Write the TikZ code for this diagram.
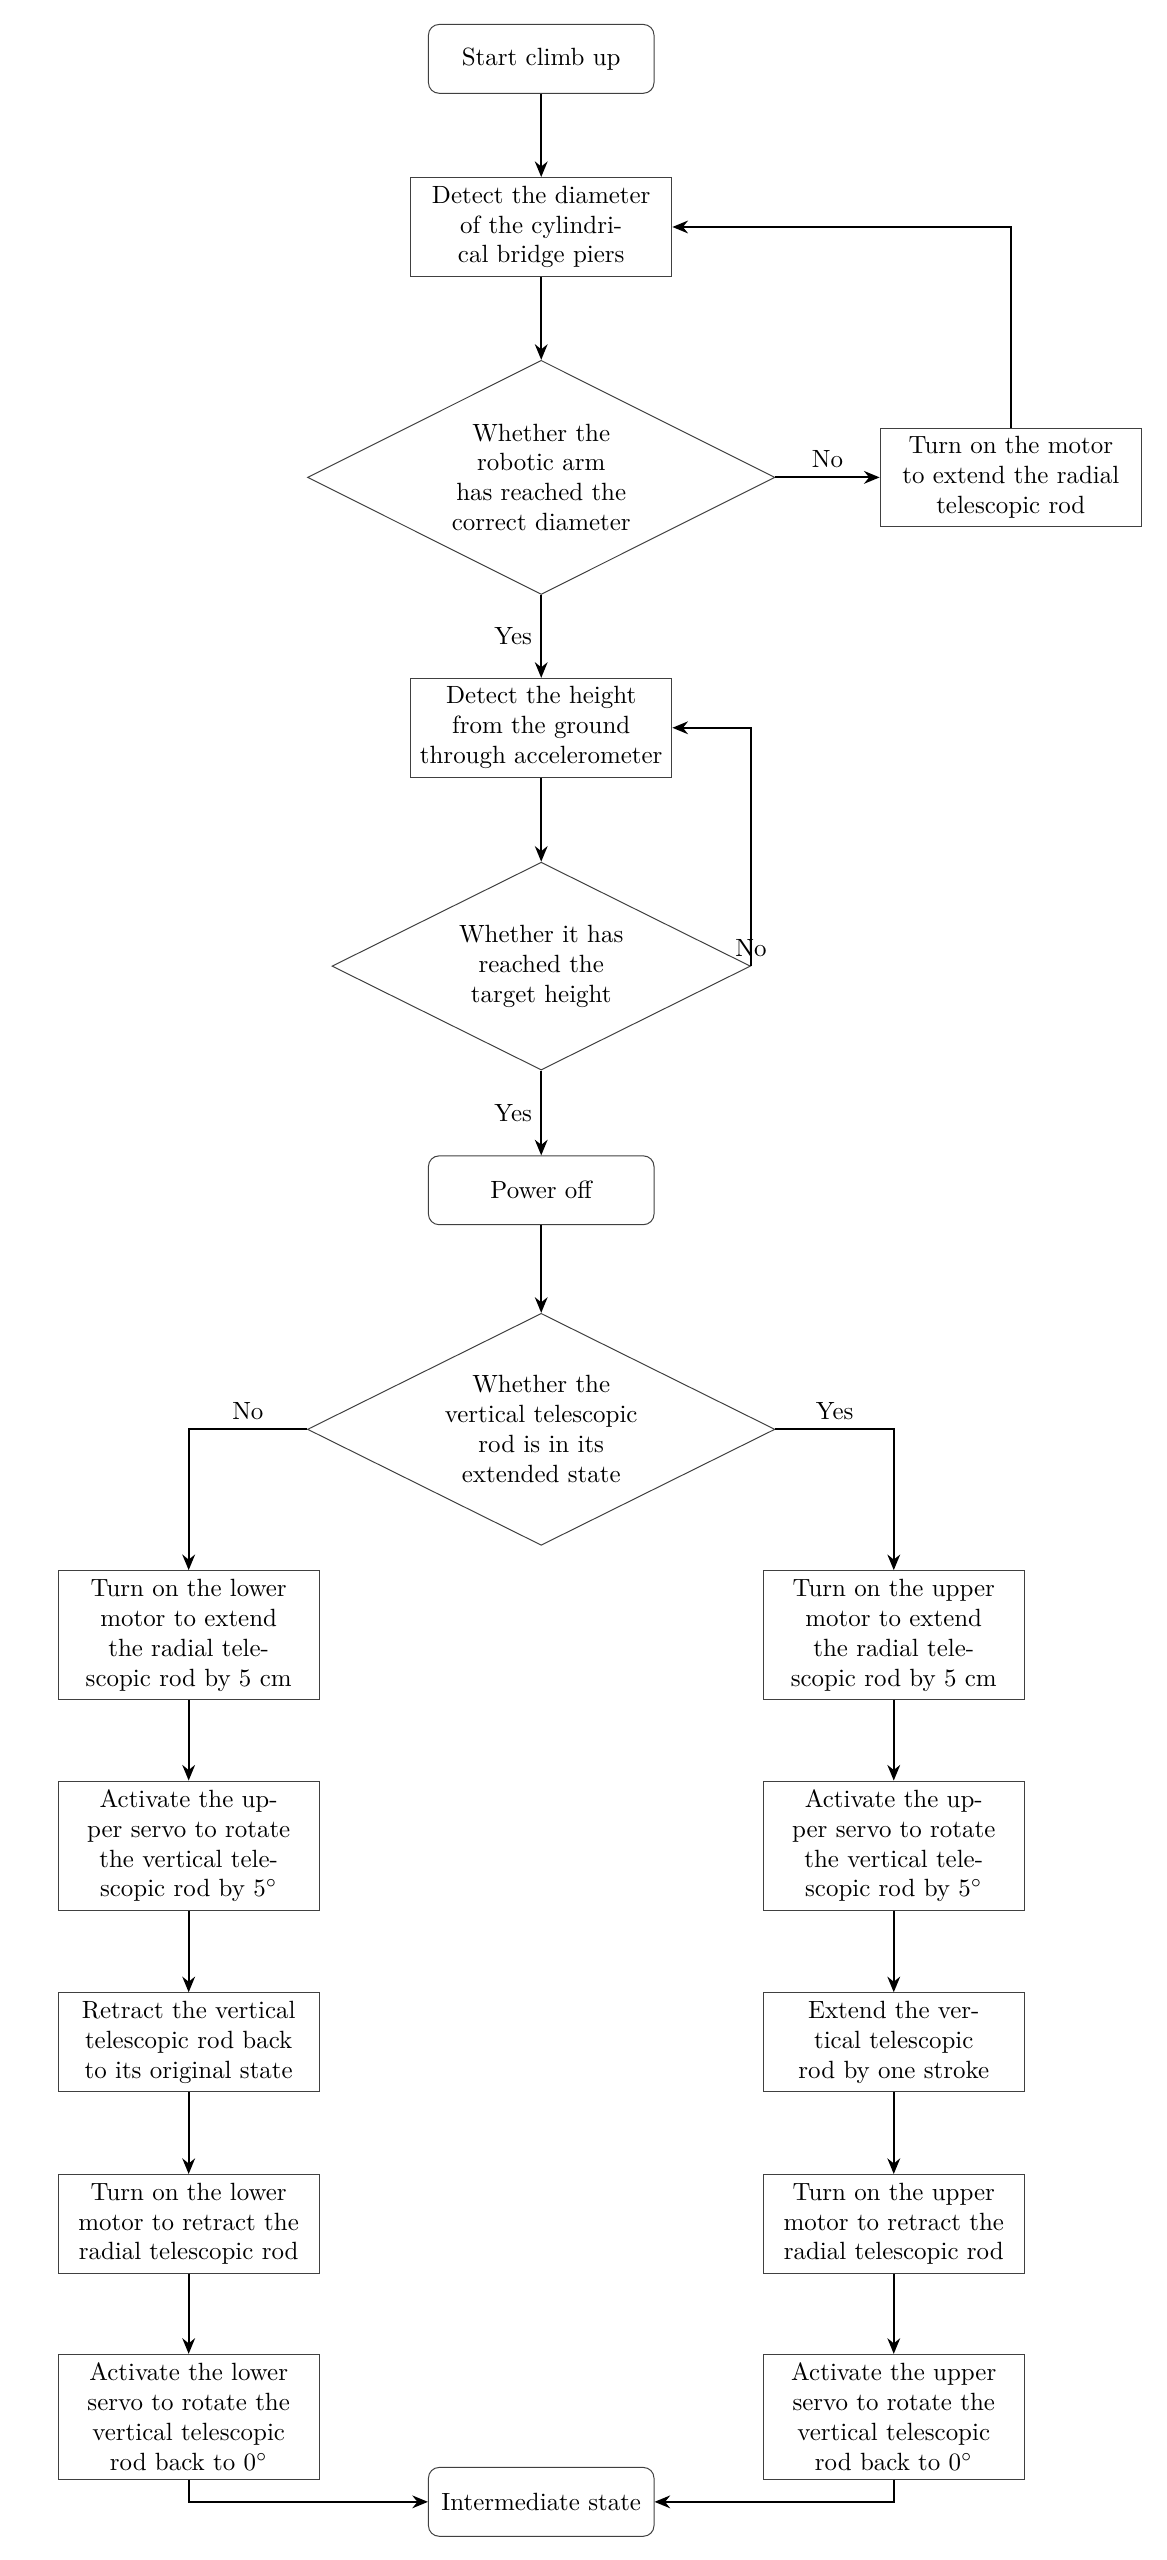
\documentclass[tikz,border=0pt]{standalone}
\usetikzlibrary{arrows.meta,shapes.geometric}
\begin{document}
\begin{tikzpicture}[>={Stealth[length=2.2mm,width=1.8mm]},
	proc/.style={draw=darkgray, rectangle, text width=3.45cm, align=center},
	term/.style={draw=darkgray, rectangle, rounded corners=1.5mm, minimum width=3.18cm, minimum height=0.97cm},
	decide/.style={draw=darkgray, diamond, aspect=2, inner sep=0pt, text width=2.9cm, align=center},
	flow/.style={->, thick}]
	\useasboundingbox (-7.63,0) rectangle (8.81,-36.09);
	\node[term] (start) at (0,-0.83) {Start climb up};
	\node[proc] (diam) at (0,-3.20) {Detect the diameter\\of the cylindri-\\cal bridge piers};
	\node[decide, minimum width=6.59cm, minimum height=3.3cm] (chkdiam) at (0,-6.73) {Whether the\\robotic arm\\has reached the\\correct diameter};
	\node[proc] (extend) at (6.62,-6.73) {Turn on the motor\\to extend the radial\\telescopic rod};
	\node[proc] (height) at (0,-10.26) {Detect the height\\from the ground\\through accelerometer};
	\node[decide, minimum width=5.9cm, minimum height=2.93cm] (chkheight) at (0,-13.62) {Whether it has\\reached the\\target height};
	\node[term] (power) at (0,-16.78) {Power off};
	\node[decide, minimum width=6.59cm, minimum height=3.27cm] (chkrod) at (0,-20.15) {Whether the\\vertical telescopic\\rod is in its\\extended state};
	\node[proc] (lo1) at (-4.97,-23.05) {Turn on the lower\\motor to extend\\the radial tele-\\scopic rod by 5 cm};
	\node[proc] (lo2) at (-4.97,-26.02) {Activate the up-\\per servo to rotate\\the vertical tele-\\scopic rod by 5$^\circ$};
	\node[proc] (lo3) at (-4.97,-28.79) {Retract the vertical\\telescopic rod back\\to its original state};
	\node[proc] (lo4) at (-4.97,-31.35) {Turn on the lower\\motor to retract the\\radial telescopic rod};
	\node[proc] (lo5) at (-4.97,-34.07) {Activate the lower\\servo to rotate the\\vertical telescopic\\rod back to 0$^\circ$};
	\node[proc] (up1) at (4.97,-23.05) {Turn on the upper\\motor to extend\\the radial tele-\\scopic rod by 5 cm};
	\node[proc] (up2) at (4.97,-26.02) {Activate the up-\\per servo to rotate\\the vertical tele-\\scopic rod by 5$^\circ$};
	\node[proc] (up3) at (4.97,-28.79) {Extend the ver-\\tical telescopic\\rod by one stroke};
	\node[proc] (up4) at (4.97,-31.35) {Turn on the upper\\motor to retract the\\radial telescopic rod};
	\node[proc] (up5) at (4.97,-34.07) {Activate the upper\\servo to rotate the\\vertical telescopic\\rod back to 0$^\circ$};
	\node[term] (mid) at (0,-35.27) {Intermediate state};
	\draw[flow] (start) -- (diam);
	\draw[flow] (diam) -- (chkdiam);
	\draw[flow] (chkdiam) -- node[above] {No} (extend);
	\draw[flow] (extend.north) |- (diam.east);
	\draw[flow] (chkdiam) -- node[left] {Yes} (height);
	\draw[flow] (height) -- (chkheight);
	\draw[flow] (chkheight.east) node[above] {No} |- (height.east);
	\draw[flow] (chkheight) -- node[left] {Yes} (power);
	\draw[flow] (power) -- (chkrod);
	\draw[flow] (chkrod.west) -| node[pos=0.25, above] {No} (lo1.north);
	\draw[flow] (chkrod.east) -| node[pos=0.25, above] {Yes} (up1.north);
	\draw[flow] (lo1) -- (lo2);
	\draw[flow] (lo2) -- (lo3);
	\draw[flow] (lo3) -- (lo4);
	\draw[flow] (lo4) -- (lo5);
	\draw[flow] (up1) -- (up2);
	\draw[flow] (up2) -- (up3);
	\draw[flow] (up3) -- (up4);
	\draw[flow] (up4) -- (up5);
	\draw[flow] (lo5.south) |- (mid.west);
	\draw[flow] (up5.south) |- (mid.east);
\end{tikzpicture}
\end{document}
